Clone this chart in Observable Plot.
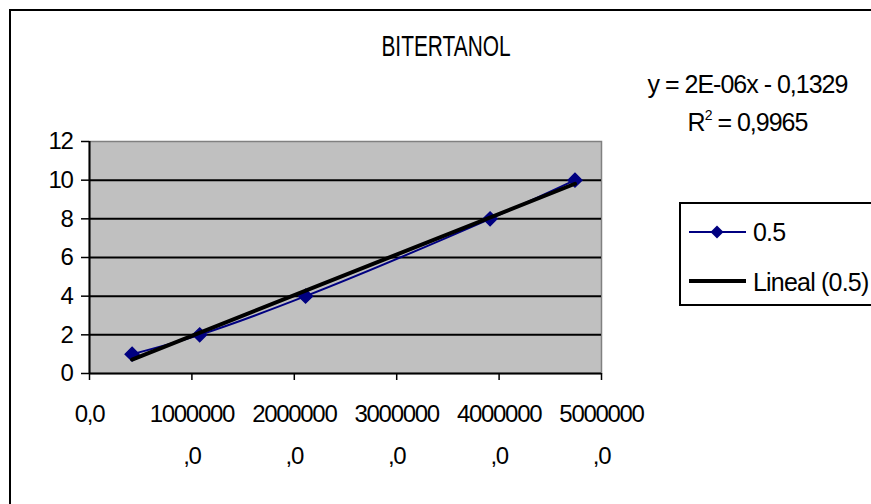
<!DOCTYPE html>
<html><head><meta charset="utf-8">
<script src="https://cdn.jsdelivr.net/npm/d3@7"></script>
<script src="https://cdn.jsdelivr.net/npm/@observablehq/plot@0.6"></script>
<style>
body{margin:0;background:#fff;font-family:"Liberation Sans",Arial,sans-serif;}
#wrap{position:relative;width:871px;height:504px;overflow:hidden;background:#fff;}
#frame{position:absolute;left:9px;top:9px;width:900px;height:600px;border:2px solid #000;box-sizing:border-box;}
#chart{position:absolute;left:0;top:0;}
#over{position:absolute;left:0;top:0;}
</style></head>
<body>
<div id="wrap">
  <div id="frame"></div>
  <div id="chart"></div>
  <svg id="over" width="871" height="504" font-family="Liberation Sans, Arial, sans-serif">
    <g transform="translate(446,56) scale(0.72,1)"><text text-anchor="middle" font-size="29" fill="#000">BITERTANOL</text></g>
    <text x="747.5" y="93" text-anchor="middle" font-size="25" letter-spacing="-1" fill="#000">y = 2E-06x - 0,1329</text>
    <text x="747.5" y="131" text-anchor="middle" font-size="25" letter-spacing="-1" fill="#000">R<tspan font-size="14" dy="-11">2</tspan><tspan dy="11"> = 0,9965</tspan></text>
    <rect x="680" y="203" width="250" height="102" fill="#fff" stroke="#000" stroke-width="2"></rect>
    <line x1="689" x2="746" y1="232" y2="232" stroke="#000080" stroke-width="2"></line>
    <path d="M717,225.5L723.5,232L717,238.5L710.5,232Z" fill="#000080"></path>
    <text x="753" y="241" font-size="25" letter-spacing="-0.8" fill="#000">0.5</text>
    <line x1="689" x2="746" y1="281" y2="281" stroke="#000" stroke-width="4"></line>
    <text x="753" y="290.5" font-size="25" letter-spacing="-0.8" fill="#000">Lineal (0.5)</text>
  </svg>
</div>
<script>
const xValues = [416000, 1076000, 2110000, 3912000, 4741000];
const yValues = [1, 2, 4, 8, 10];
const xTicks = [0, 1000000, 2000000, 3000000, 4000000, 5000000];
const yTicks = [0, 2, 4, 6, 8, 10, 12];
const gridValues = [2, 4, 6, 8, 10];

const data = xValues.map((x, i) => ({x, y: yValues[i]}));

const chart = Plot.plot({
  width: 871,
  height: 504,
  marginLeft: 89,
  marginRight: 270,
  marginTop: 141,
  marginBottom: 131,
  style: {fontFamily: "Liberation Sans, Arial, sans-serif", background: "transparent", color: "#000", overflow: "visible", letterSpacing: "-1.3px"},
  x: {domain: [0, 5000000]},
  y: {domain: [0, 12]},
  marks: [
    Plot.frame({fill: "#c0c0c0", stroke: "#808080", strokeWidth: 1.5}),
    Plot.ruleY(gridValues, {stroke: "#000", strokeWidth: 2}),
    Plot.axisY({ticks: yTicks, tickSize: 8, tickPadding: 9, fontSize: 24, strokeWidth: 1.5, tickFormat: d => String(d), label: null}),
    Plot.axisX({ticks: xTicks, tickSize: 7, tickPadding: 12, fontSize: 24, lineHeight: 1.75, strokeWidth: 1.5,
      tickFormat: d => d === 0 ? "0,0" : String(d) + "\n,0", label: null}),
    Plot.ruleX([0], {stroke: "#000", strokeWidth: 2}),
    Plot.ruleY([0], {stroke: "#000", strokeWidth: 2}),
    Plot.line(data, {x: "x", y: "y", stroke: "#000080", strokeWidth: 2, curve: "catmull-rom"}),
    Plot.dot(data, {x: "x", y: "y", symbol: "diamond2", r: 6.2, fill: "#000080", stroke: "#000080"}),
    Plot.linearRegressionY(data, {x: "x", y: "y", stroke: "#000", strokeWidth: 4, ci: 0})
  ]
});
document.getElementById("chart").appendChild(chart);
</script>
</body></html>
